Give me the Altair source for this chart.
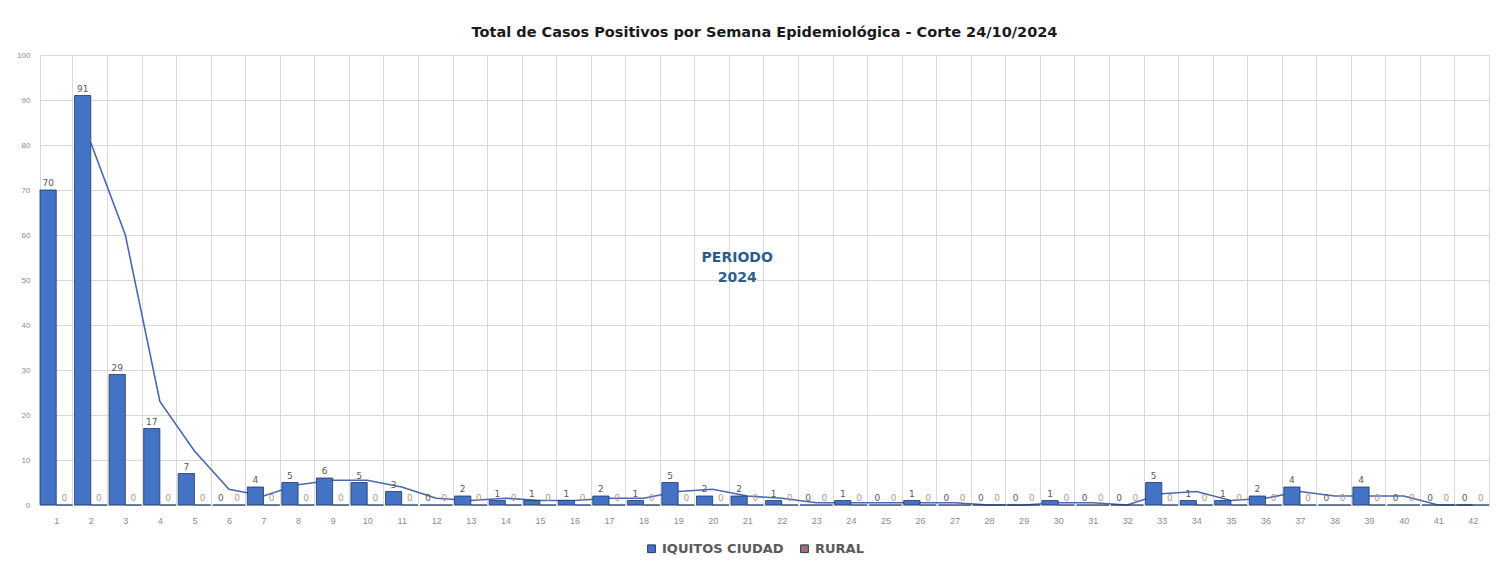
import altair as alt
import pandas as pd

weeks = list(range(1, 43))
iquitos = [70, 91, 29, 17, 7, 0, 4, 5, 6, 5, 3, 0, 2, 1, 1, 1, 2, 1, 5, 2,
           2, 1, 0, 1, 0, 1, 0, 0, 0, 1, 0, 0, 5, 1, 1, 2, 4, 0, 4, 0, 0, 0]
rural = [0] * 42
series_names = ["IQUITOS CIUDAD", "RURAL"]
series_colors = ["#4472C4", "#A5706A"]
label_colors = ["#595959", "#B39A86"]
annotation_text = ["PERIODO\n2024"]
annotation_week = [21]
annotation_value = [55]

rows = []
for w, a, b in zip(weeks, iquitos, rural):
    rows.append({"week": w, "serie": series_names[0], "value": a})
    rows.append({"week": w, "serie": series_names[1], "value": b})
df = pd.DataFrame(rows)

base = alt.Chart(df)

x_enc = alt.X("week:O", sort=weeks,
              scale=alt.Scale(paddingInner=0.06, paddingOuter=0.0),
              axis=alt.Axis(title=None, labelAngle=0, tickBand="extent",
                            grid=True, gridColor="#d9d9d9", ticks=False,
                            domainColor="#d9d9d9", labelColor="#8c8c8c",
                            labelFontSize=9, labelPadding=11))
y_scale = alt.Scale(domain=[0, 100])
y_enc = alt.Y("value:Q", scale=y_scale,
              axis=alt.Axis(title=None, values=list(range(0, 101, 10)),
                            gridColor="#d9d9d9", ticks=False, domain=False,
                            labelColor="#8c8c8c", labelFontSize=8,
                            labelPadding=10))
color_enc = alt.Color("serie:N",
                      scale=alt.Scale(domain=series_names, range=series_colors),
                      legend=alt.Legend(title=None, orient="none",
                                        legendX=605, legendY=487,
                                        direction="horizontal",
                                        symbolType="square", symbolSize=60,
                                        symbolStrokeWidth=1,
                                        labelFontSize=13, labelColor="#595959",
                                        labelFontWeight="bold",
                                        labelFont="DejaVu Sans",
                                        columnPadding=14))

trend = base.transform_filter(
    alt.datum.serie == series_names[0]
).transform_window(
    ma="mean(value)", frame=[-1, 0], sort=[alt.SortField("week")]
).transform_filter(
    alt.datum.week >= 2
).mark_line(color="#4A68B0", strokeWidth=1.6, interpolate="linear").encode(
    x=x_enc, y=alt.Y("ma:Q", scale=y_scale, title=None)
)

x_off = alt.XOffset("serie:N", sort=series_names,
                    scale=alt.Scale(paddingInner=0, paddingOuter=0))

bars = base.mark_bar(stroke="#203864", strokeWidth=0.8).encode(
    x=x_enc, xOffset=x_off, y=y_enc, color=color_enc,
)

labels = base.mark_text(fontSize=9, dy=-7, font="DejaVu Sans").encode(
    x=x_enc, xOffset=x_off,
    y=alt.Y("value:Q", scale=y_scale),
    text=alt.Text("value:Q"),
    color=alt.Color("serie:N",
                    scale=alt.Scale(domain=series_names, range=label_colors),
                    legend=None),
)

ann_df = pd.DataFrame({"week": annotation_week, "value": annotation_value,
                       "t": annotation_text})
periodo = alt.Chart(ann_df).mark_text(
    fontSize=14, fontWeight="bold", color="#2E5C8A", lineBreak="\n",
    baseline="middle", font="DejaVu Sans", dx=-10, lineHeight=20
).encode(x=x_enc, y=alt.Y("value:Q", scale=y_scale), text="t:N")

chart = alt.layer(trend, bars, labels, periodo).resolve_scale(
    color="independent"
).properties(
    width=1449, height=450,
    title=alt.TitleParams(
        "Total de Casos Positivos por Semana Epidemiológica - Corte 24/10/2024",
        fontSize=14.5, fontWeight="bold", font="DejaVu Sans", color="#1a1a1a",
        offset=11),
    padding={"left": 8, "top": 16, "right": 5, "bottom": 5},
).configure_view(stroke="#d9d9d9").configure(background="white")

chart.save("out.html", embed_options={"renderer": "svg", "actions": False})
